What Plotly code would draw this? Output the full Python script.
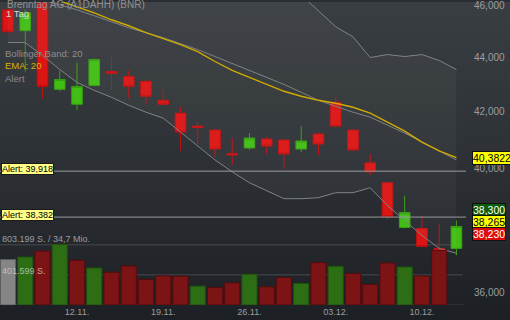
import math
import base64
import plotly.graph_objects as go

# ---------------- data ----------------
dates = ["06.11.", "07.11.", "08.11.", "09.11.", "12.11.", "13.11.", "14.11.", "15.11.", "16.11.",
         "19.11.", "20.11.", "21.11.", "22.11.", "23.11.", "26.11.", "27.11.", "28.11.", "29.11.",
         "30.11.", "03.12.", "04.12.", "05.12.", "06.12.", "07.12.", "10.12.", "11.12.", "12.12."]

opens = [45.817, 45.009, 46.090, 42.808, 42.265, 42.953, 43.467, 43.284, 43.101, 42.409,
         41.945, 41.484, 41.343, 40.527, 40.716, 41.028, 40.993, 40.681, 41.203, 42.338,
         41.343, 40.201, 39.524, 38.041, 38.009, 37.368, 37.368]
highs = [45.934, 45.817, 46.128, 43.504, 43.801, 43.951, 44.026, 43.504, 43.172, 42.808,
         42.158, 41.625, 41.378, 41.063, 41.238, 41.098, 41.028, 41.484, 41.238, 42.518,
         41.360, 40.509, 39.540, 39.090, 38.431, 38.171, 38.269]
lows = [44.893, 43.467, 42.481, 42.737, 42.051, 42.915, 42.771, 42.481, 42.265, 42.230,
        40.612, 40.854, 40.406, 40.132, 40.647, 40.509, 39.996, 40.577, 40.475, 41.449,
        40.630, 39.793, 38.301, 38.009, 37.401, 37.200, 37.147]
closes = [44.972, 45.700, 42.915, 43.172, 42.915, 43.914, 43.394, 42.915, 42.555, 42.265,
          41.273, 41.432, 40.681, 40.475, 41.063, 40.785, 40.509, 40.959, 40.854, 41.484,
          40.647, 39.894, 38.398, 38.529, 37.432, 37.211, 38.074]

volumes = [605700, 640200, 719700, 808500, 596400, 494400, 437400, 520900, 340600, 388300,
           384400, 251800, 234600, 295600, 410900, 242500, 367100, 287600, 565900, 516900,
           420100, 274400, 560600, 507600, 388300, 729000, None]

ema20 = [46.920, 46.642, 46.405, 46.169, 45.934, 45.700, 45.430, 45.199, 44.931, 44.703,
         44.476, 44.212, 43.839, 43.504, 43.246, 42.990, 42.737, 42.555, 42.409, 42.302,
         42.158, 41.945, 41.625, 41.308, 40.924, 40.612, 40.3822]
bb_mid = [46.682, 46.444, 46.208, 46.012, 45.817, 45.585, 45.353, 45.122, 44.931, 44.741,
          44.513, 44.287, 44.026, 43.764, 43.504, 43.246, 42.990, 42.699, 42.409, 42.194,
          41.980, 41.802, 41.519, 41.238, 40.924, 40.612, 40.303]
bb_upper = [47.80, 47.85, 47.90, 47.80, 47.75, 47.70, 47.65, 47.60, 47.60, 47.58,
            47.60, 47.55, 47.50, 47.45, 47.40, 47.320, 46.920, 46.405, 45.779, 45.159,
            44.776, 43.987, 44.100, 44.026, 44.100, 43.875, 43.541]
bb_lower = [44.553, 44.553, 44.062, 43.541, 43.063, 42.771, 42.518, 42.230, 41.980, 41.767,
            41.273, 40.785, 40.303, 39.894, 39.524, 39.256, 38.990, 38.990, 39.023, 39.190,
            39.190, 39.356, 38.759, 38.269, 37.784, 37.368, 37.211]

alert_levels = [39.918, 38.382]
quote_bid, quote_last, quote_ask = 38.300, 38.265, 38.230
vol_grid = [803199, 401599]
vol_turnover_text = "34,7 Mio."

price_ticks = [36.0, 40.0, 42.0, 44.0, 46.0]
date_ticks = ["12.11.", "19.11.", "26.11.", "03.12.", "10.12."]

title_text = "Brenntag AG (A1DAHH) (BNR)"
period_text = "1 Tag"

# ---------------- styling ----------------
W, H = 510, 320
ML, MR, MT, MB = 0, 42, 0, 15
PW, PH = W - ML - MR, H - MT - MB
FONT = "Arial, Liberation Sans, sans-serif"

RED = "#dc1414"
RED_LINE = "#c01010"
GREEN = "#41bd14"
GREEN_LINE = "#34a010"
VOL_RED = "#7c1315"
VOL_GREEN = "#2d6e15"
VOL_GRAY = "#858585"
BAND = "#7f8386"
EMA_COL = "#cfab00"
TXT = "#9a9da0"


def fmt(v, d):
    s = f"{v:,.{d}f}"
    return s.replace(",", "X").replace(".", ",").replace("X", ".")


def px_x(p):
    return p / PW


def px_y(p):
    return 1 - p / PH


vol_colors = []
vol_lines = []
for i, c in enumerate(closes):
    if i == 0:
        vol_colors.append(VOL_GRAY)
        vol_lines.append("#5e5e5e")
    elif c >= closes[i - 1]:
        vol_colors.append(VOL_GREEN)
        vol_lines.append("#1f4f0e")
    else:
        vol_colors.append(VOL_RED)
        vol_lines.append("#550c0e")

fig = go.Figure()

# volume bars (behind)
fig.add_trace(go.Bar(
    x=dates, y=volumes, yaxis="y2",
    marker=dict(color=vol_colors, line=dict(color=vol_lines, width=1)),
    hoverinfo="skip", showlegend=False,
))

# Bollinger band fill
fig.add_trace(go.Scatter(x=dates, y=bb_upper, mode="lines",
                         line=dict(color=BAND, width=1), hoverinfo="skip", showlegend=False))
fig.add_trace(go.Scatter(x=dates, y=bb_lower, mode="lines", fill="tonexty",
                         fillcolor="rgba(255,255,255,0.035)",
                         line=dict(color=BAND, width=1), hoverinfo="skip", showlegend=False))

# candles
fig.add_trace(go.Candlestick(
    x=dates, open=opens, high=highs, low=lows, close=closes,
    increasing=dict(line=dict(color=GREEN_LINE, width=1), fillcolor=GREEN),
    decreasing=dict(line=dict(color=RED_LINE, width=1), fillcolor=RED),
    whiskerwidth=0, hoverinfo="skip", showlegend=False,
))

fig.add_trace(go.Scatter(x=dates, y=bb_mid, mode="lines",
                         line=dict(color=BAND, width=1), hoverinfo="skip", showlegend=False))
fig.add_trace(go.Scatter(x=dates, y=ema20, mode="lines",
                         line=dict(color=EMA_COL, width=1.4), hoverinfo="skip", showlegend=False))

# background gradient
svg = (
    f'<svg xmlns="http://www.w3.org/2000/svg" width="{W}" height="{H}">'
    '<defs><linearGradient id="g" x1="0" y1="0" x2="0" y2="1">'
    '<stop offset="0" stop-color="#393e42"/>'
    '<stop offset="0.5" stop-color="#2d3135"/>'
    '<stop offset="1" stop-color="#1c1f23"/>'
    '</linearGradient></defs>'
    f'<rect width="{W}" height="{H}" fill="url(#g)"/></svg>'
)
bg_src = "data:image/svg+xml;base64," + base64.b64encode(svg.encode()).decode()

shapes = []
for lvl in alert_levels:
    shapes.append(dict(type="line", xref="paper", yref="y", x0=0, x1=px_x(466),
                       y0=lvl, y1=lvl, line=dict(color="#9a9c9e", width=1), layer="above"))
for v in vol_grid:
    shapes.append(dict(type="line", xref="paper", yref="y2", x0=0, x1=px_x(463),
                       y0=v, y1=v, line=dict(color="#474b4f", width=1), layer="below"))
shapes.append(dict(type="line", xref="paper", yref="y2", x0=0, x1=px_x(463),
                   y0=0, y1=0, line=dict(color="#3a3d41", width=1), layer="below"))

ann = []


def text_ann(txt, x, y, color, size, bold=False):
    ann.append(dict(text=(f"<b>{txt}</b>" if bold else txt), xref="paper", yref="paper",
                    x=px_x(x), y=px_y(y), xanchor="left", yanchor="middle", showarrow=False,
                    font=dict(family=FONT, size=size, color=color)))


text_ann(title_text, 5, 3, "#8f9295", 10)
text_ann(period_text, 4, 12, "#d6d6d6", 9.5)
text_ann("Bollinger Band: 20", 3, 52, "#8a8d90", 9.5)
text_ann("EMA: 20", 3, 64, "#d8b200", 9.5)
text_ann("Alert", 3, 77, "#8a8d90", 9.5)
text_ann(f"{fmt(vol_grid[0], 0)} S. / {vol_turnover_text}", 0, 239, "#9a9da0", 9)
text_ann(f"{fmt(vol_grid[1], 0)} S.", 0, 271, "rgba(215,215,215,0.75)", 9)

for lvl in alert_levels:
    ann.append(dict(text=f"Alert: {fmt(lvl, 3)}", xref="paper", yref="y",
                    x=0, y=math.log10(lvl), xanchor="left", yanchor="middle", xshift=1, yshift=2,
                    showarrow=False, font=dict(family=FONT, size=9, color="#000000"),
                    bgcolor="#ffff88", bordercolor="#1a1a1a", borderwidth=1, borderpad=0))


def price_label(v, dec, bg, fg, ysh):
    ann.append(dict(text=fmt(v, dec), xref="paper", yref="y", x=1, y=math.log10(v),
                    xanchor="left", yanchor="middle", xshift=4, yshift=ysh, showarrow=False,
                    font=dict(family=FONT, size=10.5, color=fg),
                    bgcolor=bg, bordercolor="#111111", borderwidth=1, borderpad=0))


price_label(ema20[-1], 4, "#ffff00", "#000000", 0)
price_label(quote_bid, 3, "#0c5c0c", "#ffffff", 10)
price_label(quote_last, 3, "#ffff00", "#000000", -1)
price_label(quote_ask, 3, "#dd0a0a", "#ffffff", -12)

fig.update_layout(
    width=W, height=H,
    margin=dict(l=ML, r=MR, t=MT, b=MB, pad=0),
    paper_bgcolor="#2a2e32", plot_bgcolor="rgba(0,0,0,0)",
    separators=",.",
    showlegend=False, boxgap=0.12, bargap=0.12,
    images=[dict(source=bg_src, xref="paper", yref="paper", x=0, y=1,
                 sizex=W / PW, sizey=H / PH, sizing="stretch", layer="below",
                 xanchor="left", yanchor="top")],
    shapes=shapes, annotations=ann,
    xaxis=dict(type="category", range=[-0.464, 26.67], rangeslider=dict(visible=False),
               showgrid=False, zeroline=False, showline=False,
               tickmode="array", tickvals=date_ticks, ticktext=date_ticks,
               ticks="", tickfont=dict(family=FONT, size=9, color=TXT)),
    yaxis=dict(type="log", side="right", range=[1.5515, 1.66394],
               showgrid=False, zeroline=False, showline=False,
               tickmode="array", tickvals=price_ticks, tickformat=".3f",
               ticks="outside", ticklen=3, tickcolor="rgba(0,0,0,0)",
               ticklabeloverflow="allow",
               tickfont=dict(family=FONT, size=10, color=TXT)),
    yaxis2=dict(overlaying="y", range=[0, 4042500], visible=False, showgrid=False),
)

fig.write_html(
    "out.html",
    config={"displayModeBar": False, "staticPlot": True},
    post_script="document.body.style.margin='0';document.body.style.padding='0';"
                "document.body.style.background='#2a2e32';document.body.style.overflow='hidden';",
)
